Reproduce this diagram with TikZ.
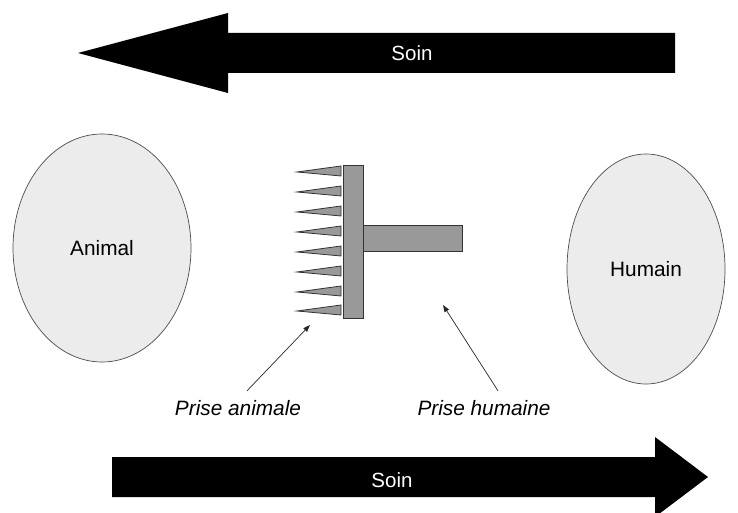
\documentclass[tikz,border=0pt]{standalone}
\usepackage{fontspec}
\setmainfont{Liberation Sans}
\usetikzlibrary{shapes.geometric,arrows.meta,calc}
\definecolor{combgray}{HTML}{999999}
\definecolor{blobfill}{HTML}{ECECEC}
\tikzset{
  blob/.style={ellipse, draw=black!70, line width=0.7pt, fill=blobfill, font=\fontsize{20.8}{23}\selectfont},
  combpart/.style={draw=black!80, line width=0.8pt, fill=combgray},
  bigarrow/.style={fill=black},
  arrowtext/.style={text=white, font=\fontsize{20.5}{23}\selectfont},
  labeltext/.style={font=\fontsize{20.8}{23}\selectfont\itshape},
  pointer/.style={-{Triangle[length=7pt,width=5pt]}, line width=0.7pt, draw=black!85}
}
\begin{document}
\begin{tikzpicture}[x=1pt,y=-1pt]
\useasboundingbox (0,0) rectangle (738,513);
% top arrow (left)
\fill[bigarrow] (78,53) -- (228,13) -- (228,33) -- (675,33) -- (675,73) -- (228,73) -- (228,93) -- cycle;
\node[arrowtext] (soinA) at (412,53) {Soin};
% bottom arrow (right)
\fill[bigarrow] (112,457) -- (655,457) -- (655,437) -- (708,477) -- (655,517) -- (655,497) -- (112,497) -- cycle;
\node[arrowtext] (soinB) at (392,480) {Soin};
% ellipses
\node[blob, minimum width=178, minimum height=228] (animal) at (102,248) {Animal};
\node[blob, minimum width=158, minimum height=230] (humain) at (646,269) {Humain};
% comb
\foreach \c in {171,191,211,231,251,271,291,310}{
  \filldraw[combpart] (297,\c+1) -- (341,\c-5) -- (341,\c+5) -- cycle;
}
\filldraw[combpart] (363,225) rectangle (462,251);
\filldraw[combpart] (343,165) rectangle (363,318);
\coordinate (pa) at (310,325);
\coordinate (ph) at (443,305);
% labels
\node[labeltext] (lanim) at (238,408) {Prise animale};
\node[labeltext] (lhum) at (484,408) {Prise humaine};
\draw[pointer] ($(lanim.north)+(9,-6)$) -- (pa);
\draw[pointer] ($(lhum.north)+(14,-6)$) -- (ph);
\end{tikzpicture}
\end{document}
